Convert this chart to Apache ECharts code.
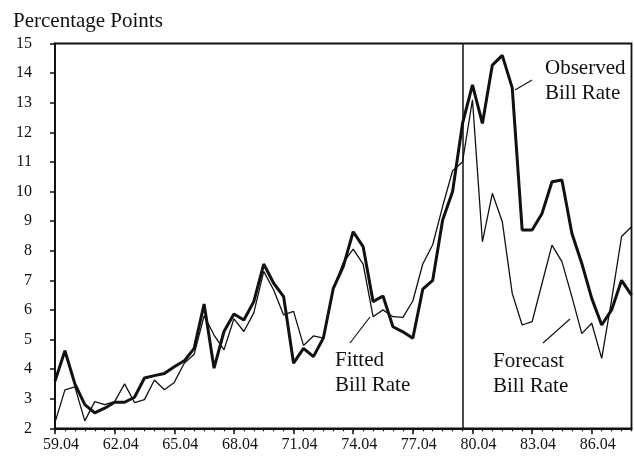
<!DOCTYPE html>
<html><head><meta charset="utf-8">
<script src="https://cdn.jsdelivr.net/npm/echarts@6/dist/echarts.min.js"></script>
<style>html,body{margin:0;padding:0;background:#fff}#c{width:634px;height:456px}</style>
</head><body><div id="c"></div>
<script>
// Half-yearly periods (year.month)
const periods = [
 '59.04','59.10','60.04','60.10','61.04','61.10','62.04','62.10','63.04','63.10',
 '64.04','64.10','65.04','65.10','66.04','66.10','67.04','67.10','68.04','68.10',
 '69.04','69.10','70.04','70.10','71.04','71.10','72.04','72.10','73.04','73.10',
 '74.04','74.10','75.04','75.10','76.04','76.10','77.04','77.10','78.04','78.10',
 '79.04','79.10','80.04','80.10','81.04','81.10','82.04','82.10','83.04','83.10',
 '84.04','84.10','85.04','85.10','86.04','86.10','87.04','87.10','88.04'
];
// Observed bill rate (thick line)
const observed = [
 3.6,4.62,3.5,2.8,2.52,2.68,2.88,2.88,3.05,3.7,
 3.78,3.85,4.08,4.28,4.7,6.2,4.03,5.27,5.86,5.66,
 6.28,7.55,6.9,6.45,4.2,4.7,4.42,5.05,6.73,7.46,
 8.64,8.14,6.28,6.47,5.43,5.26,5.04,6.7,7.0,9.04,
 10.0,12.3,13.6,12.3,14.27,14.6,13.5,8.7,8.7,9.26,
 10.33,10.39,8.59,7.57,6.39,5.49,6.0,7.0,6.5
];
// Fitted bill rate (59.04 - 79.10)
const fitted = [
 2.2,3.3,3.4,2.25,2.9,2.8,2.9,3.5,2.87,2.97,
 3.63,3.3,3.55,4.2,4.5,5.8,5.15,4.65,5.7,5.27,
 5.9,7.3,6.67,5.83,5.95,4.8,5.12,5.05,6.7,7.6,
 8.05,7.55,5.77,6.0,5.77,5.75,6.3,7.55,8.2,9.5,
 10.7,11.0
];
// Forecast bill rate (79.10 - 88.04)
const forecastStart = '79.10';
const forecast = [
 11.0,13.1,8.3,9.94,8.98,6.56,5.49,5.6,6.9,8.19,
 7.63,6.45,5.2,5.55,4.36,6.34,8.48,8.81
];
const yMin = 2, yMax = 15, yStep = 1;

const startIdx = periods.indexOf(forecastStart);
const forecastFull = periods.map((p, i) => i < startIdx ? '-' : forecast[i - startIdx]);

const ink = '#111';
const serif = 'Liberation Serif';
const chart = echarts.init(document.getElementById('c'), null, {renderer: 'canvas'});
chart.setOption({
  animation: false,
  backgroundColor: '#fff',
  grid: {left: 55, right: 2.5, top: 43.5, bottom: 27.7, show: true,
         borderColor: ink, borderWidth: 1.8, backgroundColor: 'transparent'},
  xAxis: [{
    type: 'category', data: periods, boundaryGap: false,
    axisLine: {show: true, onZero: false, lineStyle: {color: ink, width: 2}},
    axisTick: {show: true, interval: 0, length: 3, lineStyle: {color: ink, width: 1.2}},
    axisLabel: {interval: 5, color: ink, fontFamily: serif, fontSize: 16, margin: 8,
                padding: [0, 0, 0, 12]},
    splitLine: {show: false}
  }, {
    type: 'category', data: periods, boundaryGap: false, position: 'bottom',
    axisLine: {show: false},
    axisTick: {show: true, interval: 5, length: 6, lineStyle: {color: ink, width: 1.5}},
    axisLabel: {show: false}, splitLine: {show: false}
  }],
  yAxis: {
    type: 'value', min: yMin, max: yMax, interval: yStep,
    axisLine: {show: true, lineStyle: {color: ink, width: 2}},
    axisTick: {show: true, length: 5, lineStyle: {color: ink, width: 1.5}},
    axisLabel: {color: ink, fontFamily: serif, fontSize: 16, margin: 23},
    splitLine: {show: false}
  },
  series: [{
    name: 'Observed Bill Rate', type: 'line', data: observed, symbol: 'none',
    lineStyle: {color: ink, width: 3}, z: 3,
    markLine: {silent: true, symbol: 'none', label: {show: false},
      lineStyle: {color: ink, width: 1.5, type: 'solid'},
      data: [{xAxis: forecastStart}]}
  }, {
    name: 'Fitted Bill Rate', type: 'line', data: fitted, symbol: 'none',
    lineStyle: {color: ink, width: 1.3}, z: 2
  }, {
    name: 'Forecast Bill Rate', type: 'line', data: forecastFull, symbol: 'none',
    lineStyle: {color: ink, width: 1.3}, z: 2
  }],
  graphic: [
    {type: 'text', left: 13, top: 11, style: {text: 'Percentage Points', font: '21px "Liberation Serif"', fill: ink}},
    {type: 'text', left: 545, top: 56, style: {text: 'Observed\nBill Rate', font: '21px "Liberation Serif"', lineHeight: 25, fill: ink}},
    {type: 'text', left: 335, top: 348, style: {text: 'Fitted\nBill Rate', font: '21px "Liberation Serif"', lineHeight: 25, fill: ink}},
    {type: 'text', left: 493, top: 349, style: {text: 'Forecast\nBill Rate', font: '21px "Liberation Serif"', lineHeight: 25, fill: ink}},
    {type: 'line', shape: {x1: 515, y1: 90, x2: 532, y2: 80}, style: {stroke: ink, lineWidth: 1.2}},
    {type: 'line', shape: {x1: 350, y1: 343, x2: 370, y2: 317}, style: {stroke: ink, lineWidth: 1.2}},
    {type: 'line', shape: {x1: 543, y1: 343, x2: 570, y2: 319}, style: {stroke: ink, lineWidth: 1.2}}
  ]
});
</script></body></html>
